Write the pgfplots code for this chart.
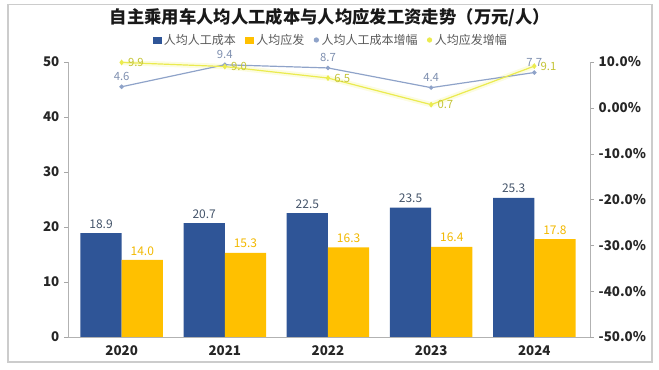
\documentclass[border=0pt]{standalone}
\usepackage{fontspec}
\setmainfont{Noto Sans CJK SC}
\usepackage{pgfplots}
\pgfplotsset{compat=1.18}
\definecolor{barblue}{HTML}{2F5597}
\definecolor{baryellow}{HTML}{FFC000}
\definecolor{lineblue}{HTML}{8FA3C9}
\definecolor{lineyellow}{HTML}{EBEB4F}
\definecolor{lblblue}{HTML}{44546A}
\definecolor{lblyellow}{HTML}{F2B800}
\definecolor{lbllineblue}{HTML}{7E8FAF}
\definecolor{lbllineyellow}{HTML}{C4C436}
\begin{document}
\begin{tikzpicture}
\path (0,0) rectangle (494.25pt,277.5pt);
\draw[black!20, line width=0.8pt] (6pt,6pt) rectangle (489pt,274pt);
\node[font=\fontsize{13}{15}\selectfont\bfseries, text=black!90] at (247.5pt,264pt) {自主乘用车人均人工成本与人均应发工资走势（万元/人）};
\begin{axis}[
  at={(51pt,24.75pt)}, anchor=south west, scale only axis,
  width=391.5pt, height=206.25pt,
  xmin=-0.52, xmax=4.54, ymin=0, ymax=50,
  axis x line*=bottom, axis y line*=left,
  xtick={0,1,2,3,4}, xticklabels={2020,2021,2022,2023,2024},
  ytick={0,10,20,30,40,50},
  x tick style={draw=none},
  y tick style={draw=black!35},
  tick align=outside, major tick length=3pt,
  axis line style={draw=black!30, -},
  tick label style={font=\fontsize{10}{12}\selectfont\bfseries, text=black!85},
  /pgf/number format/assume math mode=true,
  ybar, bar width=0.4,
  nodes near coords={\pgfmathprintnumber[fixed,fixed zerofill,precision=1]{\pgfplotspointmeta}},
  nodes near coords style={font=\fontsize{9}{10}\selectfont},
]
\addplot[fill=barblue, draw=none, bar shift=-0.2, nodes near coords style={text=lblblue}]
  coordinates {(0,18.9) (1,20.7) (2,22.5) (3,23.5) (4,25.3)};
\addplot[fill=baryellow, draw=none, bar shift=0.2, nodes near coords style={text=lblyellow}]
  coordinates {(0,14.0) (1,15.3) (2,16.3) (3,16.4) (4,17.8)};
\end{axis}
\begin{axis}[
  at={(51pt,24.75pt)}, anchor=south west, scale only axis,
  width=391.5pt, height=206.25pt,
  xmin=-0.52, xmax=4.54, ymin=-50, ymax=10,
  axis x line=none, axis y line*=right,
  ytick={-50,-40,-30,-20,-10,0,10},
  yticklabels={-50.0\%,-40.0\%,-30.0\%,-20.0\%,-10.0\%,0.00\%,10.0\%},
  y tick style={draw=black!35},
  tick align=outside, major tick length=3pt,
  axis line style={draw=black!30, -},
  tick label style={font=\fontsize{10}{12}\selectfont\bfseries, text=black!85},
  /pgf/number format/assume math mode=true,
  legend columns=4,
  legend style={at={(0.504,1.08)}, anchor=center, draw=none, fill=none,
    font=\fontsize{9}{10}\selectfont, text=black!65,
    /tikz/every even column/.append style={column sep=5pt}},
  nodes near coords={\pgfmathprintnumber[fixed,fixed zerofill,precision=1]{\pgfplotspointmeta}},
  nodes near coords style={font=\fontsize{8.5}{10}\selectfont},
]
\addlegendimage{legend image code/.code={\fill[barblue] (0pt,-2.2pt) rectangle (6pt,2.2pt);}}
\addlegendentry{人均人工成本}
\addlegendimage{legend image code/.code={\fill[baryellow] (0pt,-2.2pt) rectangle (6pt,2.2pt);}}
\addlegendentry{人均应发}
% glow under yellow line
\addplot[lineyellow!50, opacity=0.35, line width=4pt, forget plot, nodes near coords={}]
  coordinates {(0,9.9) (1,9.0) (2,6.5) (3,0.7) (4,9.1)};
\addplot[lineblue, line width=0.9pt, mark=*, mark size=1.2pt,
  nodes near coords style={text=lbllineblue, anchor=south, yshift=1pt},
  legend image code/.code={\fill[lineblue] (3pt,0) circle (1.5pt);}]
  coordinates {(0,4.6) (1,9.4) (2,8.7) (3,4.4) (4,7.7)};
\addlegendentry{人均人工成本增幅}
\addplot[lineyellow, line width=0.9pt, mark=diamond*, mark size=1.5pt,
  nodes near coords style={text=lbllineyellow, anchor=west, xshift=1pt},
  legend image code/.code={\fill[lineyellow] (3pt,0) circle (1.5pt);}]
  coordinates {(0,9.9) (1,9.0) (2,6.5) (3,0.7) (4,9.1)};
\addlegendentry{人均应发增幅}
\end{axis}
\end{tikzpicture}
\end{document}
